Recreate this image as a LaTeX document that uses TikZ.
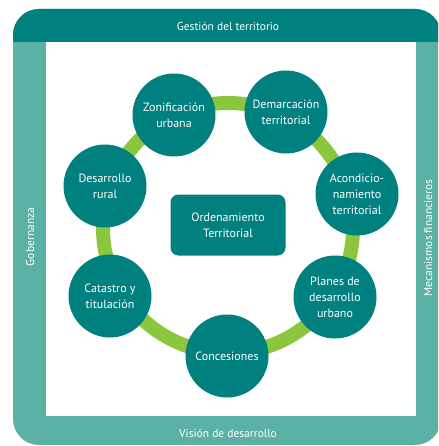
\documentclass[tikz,border=0pt]{standalone}
\usepackage{fontspec}
\setmainfont{PT Sans}
\definecolor{tealdark}{HTML}{00807E}
\definecolor{teallight}{HTML}{5CB1A7}
\definecolor{ringgreen}{HTML}{8CC63F}
\tikzset{
  topic/.style={circle, fill=tealdark, text=white, minimum size=83pt, inner sep=0pt,
    align=center, font=\fontsize{12}{16}\selectfont},
  band/.style={text=white, font=\fontsize{11.5}{13}\selectfont}
}
\begin{document}
\begin{tikzpicture}[x=1pt,y=-1pt]
  \useasboundingbox[fill=white] (0,0) rectangle (438,446);
  \begin{scope}
    \clip (0,0) rectangle (438,446);
    % Frame
    \fill[teallight, rounded corners=26pt] (13,9) rectangle (441,445);
    \fill[tealdark] (13,42) {[rounded corners=26pt] -- (13,9) -- (441,9)} -- (441,42) -- cycle;
    \fill[white] (46,42) rectangle (416,416);
  \end{scope}

  % Frame labels
  \node[band] (gestion) at (228,26) {Gestión del territorio};
  \node[band] (vision) at (228,433) {Visión de desarrollo};
  \node[band, rotate=90] (gober) at (30,237) {Gobernanza};
  \node[band, rotate=90] (mecan) at (428,238) {Mecanismos financieros};

  % Green ring
  \coordinate (ringc) at (228,228);
  \draw[ringgreen, line width=14pt] (ringc) circle[radius=125pt];

  % Topics
  \node[topic] (zonif) at (174,115) {Zonificación\\urbana};
  \node[topic] (demarc) at (286,112) {Demarcación\\territorial};
  \node[topic] (acond) at (357,194) {Acondicio-\\namiento\\territorial};
  \node[topic] (rural) at (105,186) {Desarrollo\\rural};
  \node[topic] (catastro) at (110,296) {Catastro y\\titulación};
  \node[topic] (planes) at (335,297) {Planes de\\desarrollo\\urbano};
  \node[topic] (conces) at (227,356) {Concesiones};

  % Centre
  \node[fill=tealdark, text=white, rounded corners=8pt, minimum width=115pt,
    minimum height=61pt, align=center, font=\fontsize{12}{16}\selectfont]
    (orden) at (228,225) {Ordenamiento\\Territorial};
\end{tikzpicture}
\end{document}
